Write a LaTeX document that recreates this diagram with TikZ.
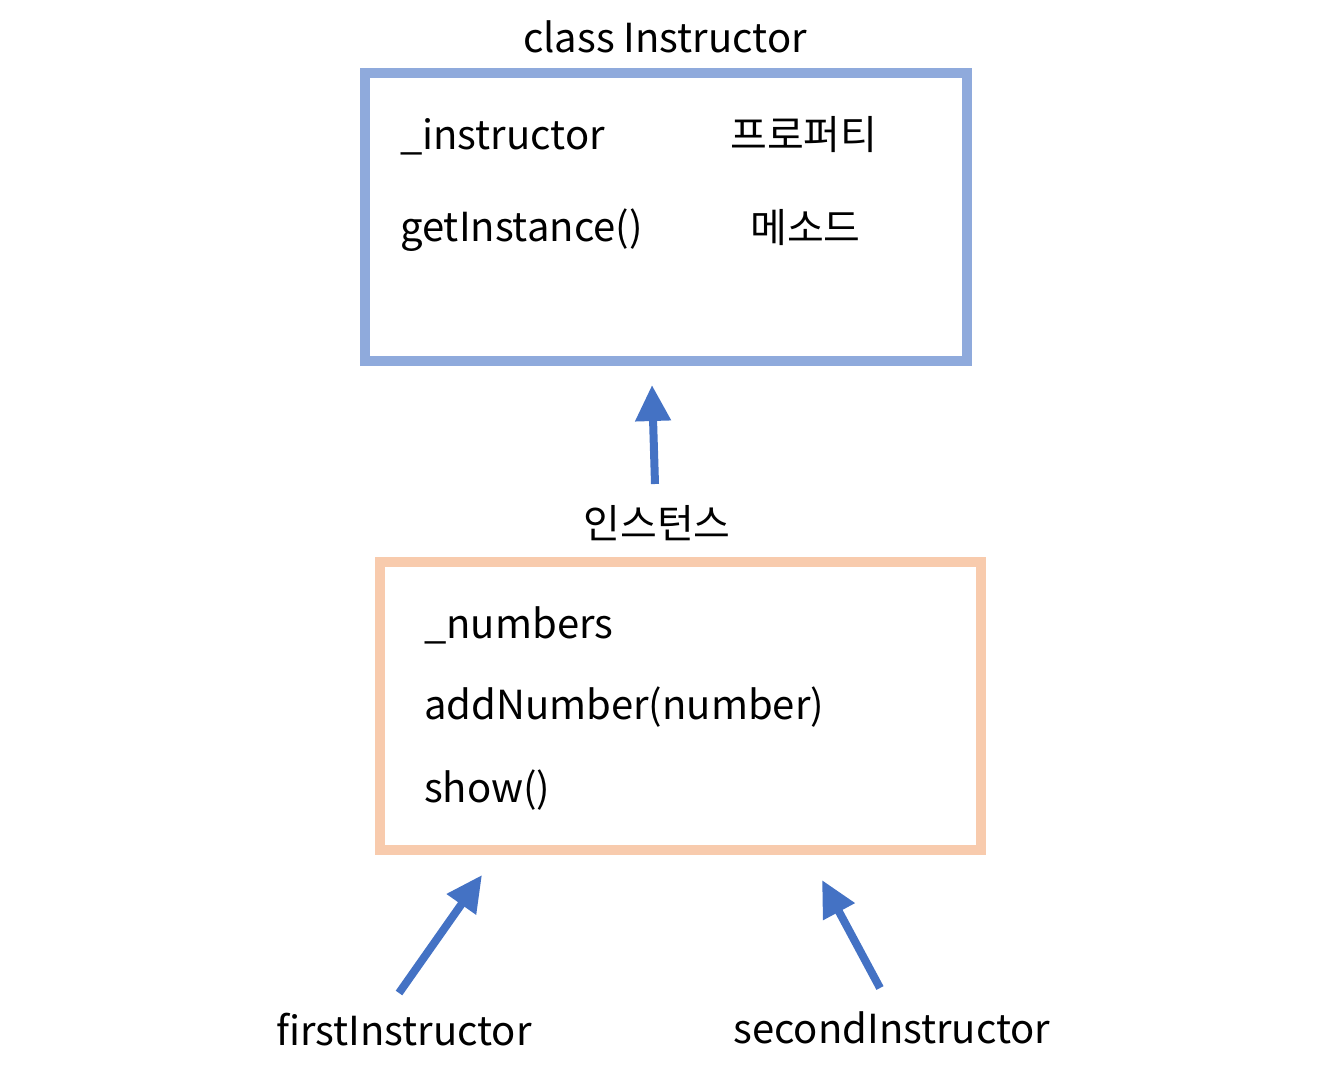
\documentclass[tikz,border=0pt]{standalone}
\usepackage{fontspec}
\setmainfont{Noto Sans CJK KR}
\usetikzlibrary{arrows.meta}
\definecolor{bbox}{HTML}{8FAADC}
\definecolor{obox}{HTML}{F8CBAD}
\definecolor{arr}{HTML}{4472C4}
\begin{document}
\begin{tikzpicture}[x=1pt,y=-1pt,
  txt/.style={inner sep=0pt,font=\fontsize{40}{46}\selectfont},
  lt/.style={txt,anchor=west},
  conn/.style={arr,line width=8pt,-{Triangle[length=36pt,width=34pt]}}]
\useasboundingbox (0,0) rectangle (1334,1068);
\draw[bbox,line width=10pt] (365,73) rectangle (967,361);
\draw[obox,line width=10pt] (380,562) rectangle (981,850);
\node[txt] (title) at (665,37) {class Instructor};
\node[lt] (p1) at (400,137) {\_instructor};
\node[lt] (k1) at (730,135) {프로퍼티};
\node[lt] (p2) at (400,230) {getInstance()};
\node[lt] (k2) at (750,228) {메소드};
\node[txt] (inst) at (657,523) {인스턴스};
\node[lt] (n1) at (424,625) {\_numbers};
\node[lt] (n2) at (424,707) {addNumber(number)};
\node[lt] (n3) at (424,790) {show()};
\node[txt] (f) at (404,1030) {firstInstructor};
\node[txt] (s) at (892,1028) {secondInstructor};
\coordinate (a1s) at (655,484); \coordinate (a1e) at (652,385);
\coordinate (a2s) at (399,993); \coordinate (a2e) at (482,875);
\coordinate (a3s) at (880,988); \coordinate (a3e) at (822,880);
\draw[conn] (a1s) -- (a1e);
\draw[conn] (a2s) -- (a2e);
\draw[conn] (a3s) -- (a3e);
\end{tikzpicture}
\end{document}
